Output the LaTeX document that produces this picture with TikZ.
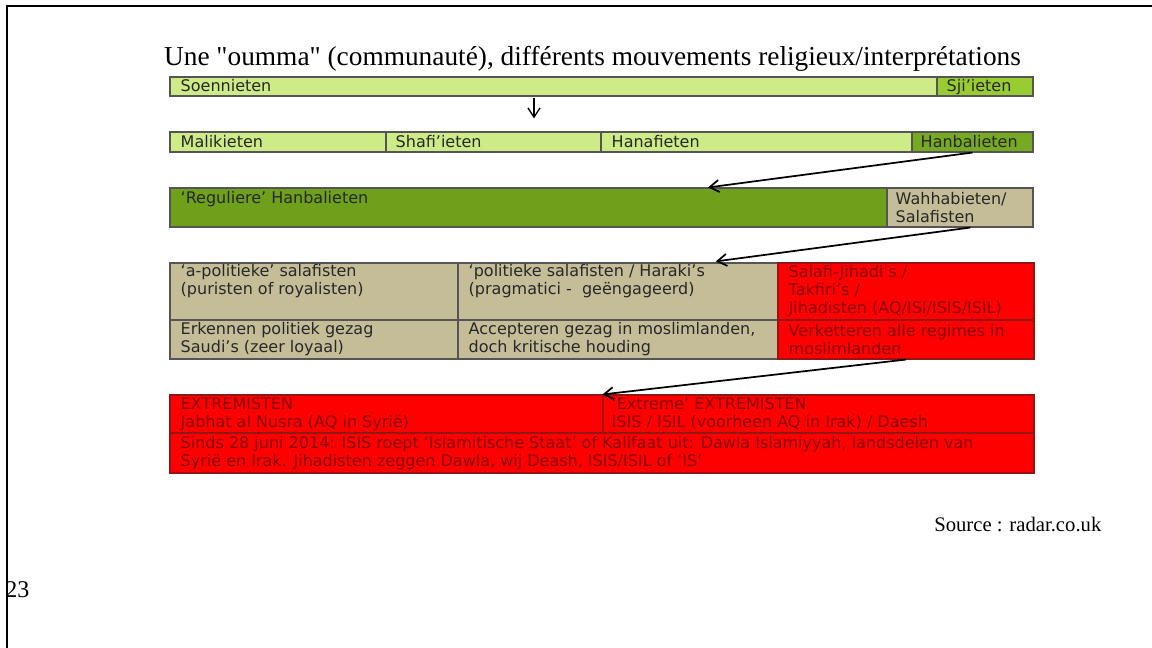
\documentclass[tikz,border=0pt]{standalone}
\usepackage{fontspec}
\setmainfont{Liberation Serif}[Ligatures=TeXOff]
\newfontfamily\cellfont{DejaVu Sans}
\usetikzlibrary{calc, positioning, arrows.meta, fit}
\definecolor{sunni}{RGB}{205,236,135}
\definecolor{shia}{RGB}{153,204,51}
\definecolor{hanbal}{RGB}{119,170,34}
\definecolor{regular}{RGB}{111,160,27}
\definecolor{tan}{RGB}{196,189,151}
\definecolor{jihad}{RGB}{255,0,0}
\definecolor{jihadtext}{RGB}{135,0,0}
\definecolor{jihadline}{RGB}{150,20,20}
\definecolor{gridline}{RGB}{85,85,85}
\definecolor{textdark}{RGB}{40,40,40}

\begin{document}
\begin{tikzpicture}[
    x=0.75pt, y=-0.75pt,
    cell/.style={draw=gridline, line width=0.8pt, inner sep=0pt},
    redcell/.style={cell, draw=jihadline, fill=jihad},
    celltext/.style={
        anchor=west, align=left, inner sep=0pt, text=textdark,
        font=\cellfont\fontsize{12}{13.5}\selectfont
      },
    linetext/.style={celltext, anchor=base west},
    redtext/.style={celltext, text=jihadtext},
    flow/.style={-{Straight Barb[length=7pt, width=9pt]}, line width=1.3pt},
    frame/.style={line width=1.5pt}
  ]
  \useasboundingbox (0,0) rectangle (1152,648);
  \draw[frame] (7,648) |- (1152,6);

  \node[anchor=base, font=\fontsize{20.5}{24}\selectfont] (title) at (592.5,66)
  {Une "oumma" (communauté), différents mouvements religieux/interprétations};

  % row 1
  \node[cell, fill=sunni, fit={(170,77) (937,96)}] (soen) {};
  \node[cell, fill=shia, fit={(937,77) (1033,96)}] (sji) {};
  \node[linetext] (soen-t) at ([shift={(11,-5)}]soen.south west) {Soennieten};
  \node[linetext] (sji-t) at ([shift={(10,-5)}]sji.south west) {Sji’ieten};

  % row 2
  \node[cell, fill=sunni, fit={(170,132) (386,152)}] (mal) {};
  \node[cell, fill=sunni, fit={(386,132) (601,152)}] (shaf) {};
  \node[cell, fill=sunni, fit={(601,132) (912,152)}] (hanaf) {};
  \node[cell, fill=hanbal, fit={(912,132) (1033,152)}] (hanb) {};
  \node[linetext] (mal-t) at ([shift={(11,-5)}]mal.south west) {Malikieten};
  \node[linetext] (shaf-t) at ([shift={(10,-5)}]shaf.south west) {Shafi’ieten};
  \node[linetext] (hanaf-t) at ([shift={(11,-5)}]hanaf.south west) {Hanafieten};
  \node[linetext] (hanb-t) at ([shift={(9,-5)}]hanb.south west) {Hanbalieten};

  % row 3
  \node[cell, fill=regular, fit={(170,188) (887,227)}] (reg) {};
  \node[cell, fill=tan, fit={(887,188) (1033,227)}] (wahh) {};
  \node[celltext, anchor=north west] (reg-t) at ([shift={(11,4)}]reg.north west)
  {‘Reguliere’ Hanbalieten};
  \node[celltext] (wahh-t) at ([shift={(9,0)}]wahh.west) {Wahhabieten/\\Salafisten};

  % row 4
  \node[cell, fill=tan, fit={(170,263) (458,320)}] (apol) {};
  \node[cell, fill=tan, fit={(458,263) (778,320)}] (pol) {};
  \node[redcell, fit={(778,263) (1034,320)}] (jihad) {};
  \node[cell, fill=tan, fit={(170,320) (458,359)}] (apolb) {};
  \node[cell, fill=tan, fit={(458,320) (778,359)}] (polb) {};
  \node[redcell, fit={(778,320) (1034,359)}] (jihadb) {};
  \node[celltext, anchor=north west] (apol-t) at ([shift={(11,2)}]apol.north west)
  {‘a-politieke’ salafisten\\(puristen of royalisten)};
  \node[celltext, anchor=north west] (pol-t) at ([shift={(11,2)}]pol.north west)
  {‘politieke salafisten / Haraki’s\\(pragmatici -\ \ geëngageerd)};
  \node[redtext] (jihad-t) at ([shift={(11,0)}]jihad.west)
  {Salafi-Jihadi’s /\\Takfiri’s /\\Jihadisten (AQ/ISI/ISIS/ISIL)};
  \node[celltext] (apolb-t) at ([shift={(11,0)}]apolb.west)
  {Erkennen politiek gezag\\Saudi’s (zeer loyaal)};
  \node[celltext] (polb-t) at ([shift={(11,0)}]polb.west)
  {Accepteren gezag in moslimlanden,\\doch kritische houding};
  \node[redtext] (jihadb-t) at ([shift={(11,0)}]jihadb.west)
  {Verketteren alle regimes in\\moslimlanden};

  % row 5
  \node[redcell, fit={(170,395) (603,433)}] (extr) {};
  \node[redcell, fit={(603,395) (1034,433)}] (xextr) {};
  \node[redcell, fit={(170,433) (1034,473)}] (dawla) {};
  \node[redtext] (extr-t) at ([shift={(11,0)}]extr.west)
  {EXTREMISTEN\\Jabhat al Nusra (AQ in Syrië)};
  \node[redtext] (xextr-t) at ([shift={(9,0)}]xextr.west)
  {‘Extreme’ EXTREMISTEN\\ISIS / ISIL (voorheen AQ in Irak) / Daesh};
  \node[redtext] (dawla-t) at ([shift={(11,0)}]dawla.west)
  {Sinds 28 juni 2014: ISIS roept ‘Islamitische Staat’ of Kalifaat uit: Dawla Islamiyyah, landsdelen van\\Syrië en Irak. Jihadisten zeggen Dawla, wij Deash, ISIS/ISIL of ‘IS’};

  % arrows
  \draw[flow, line width=1pt] ([shift={(40.5,1)}]soen.south -| shaf.north) -- ([shift={(40.5,-13)}]shaf.north);
  \draw[flow] (hanb.south) -- ($(reg.north west)!0.75!(reg.north east)$);
  \draw[flow, shorten >=6pt] ($(wahh.south west)!0.57!(wahh.south east)$) -- ($(pol.north west)!0.78!(pol.north east)$);
  \draw[flow] (jihadb.south) -- (xextr.north west);

  \node[anchor=base east, font=\fontsize{15.5}{18}\selectfont] (source) at (1106,531)
  {Source : radar.co.uk};
  \node[anchor=base west, inner sep=0pt, font=\fontsize{18}{21}\selectfont] (page) at (5,597) {23};
\end{tikzpicture}
\end{document}
